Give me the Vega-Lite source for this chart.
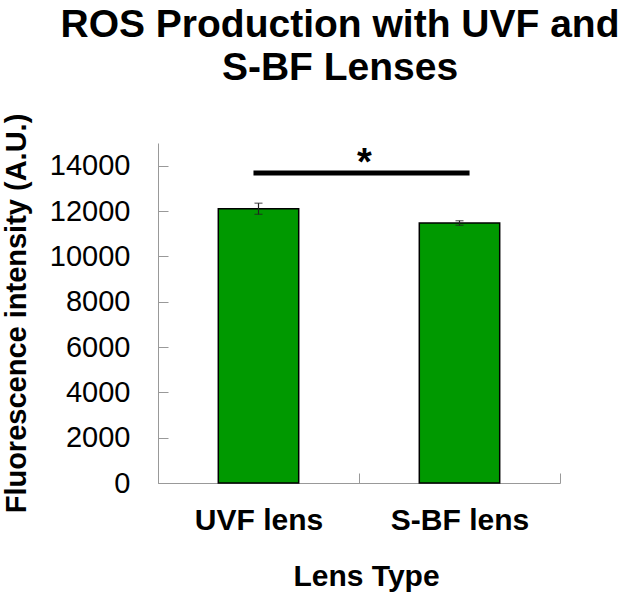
{
  "$schema": "https://vega.github.io/schema/vega-lite/v6.json",
  "width": 402,
  "height": 340,
  "autosize": {"type": "none"},
  "padding": {"left": 158, "top": 143, "right": 72, "bottom": 110},
  "background": "white",
  "title": {
    "text": ["ROS Production with UVF and", "S-BF Lenses"],
    "font": "Liberation Sans",
    "fontSize": 39,
    "fontWeight": "bold",
    "color": "black",
    "anchor": "middle",
    "frame": "group",
    "lineHeight": 43,
    "offset": 25,
    "dx": -19
  },
  "config": {
    "view": {"stroke": null},
    "font": "Liberation Sans",
    "axis": {
      "grid": false,
      "domainColor": "#999999",
      "domainWidth": 1,
      "tickColor": "#999999",
      "tickWidth": 1,
      "tickSize": -10,
      "labelColor": "black",
      "titleColor": "black",
      "labelFont": "Liberation Sans",
      "titleFont": "Liberation Sans",
      "titleFontWeight": "bold"
    },
    "axisY": {
      "labelFontSize": 29,
      "labelPadding": 38,
      "titleFontSize": 29,
      "titleX": -142,
      "titleBaseline": "middle"
    },
    "axisX": {
      "tickBand": "extent",
      "labelAngle": 0,
      "labelFontSize": 30,
      "labelFontWeight": "bold",
      "labelPadding": 32,
      "titleFontSize": 30,
      "titleX": 208,
      "titleY": 102,
      "titleBaseline": "alphabetic"
    }
  },
  "datasets": {
    "bars": [
      {"lens": "UVF lens", "mean": 12100, "err": 245},
      {"lens": "S-BF lens", "mean": 11470, "err": 100}
    ],
    "sig": [
      {"from": "UVF lens", "to": "S-BF lens", "y": 13680, "label": "*", "ly": 13600}
    ]
  },
  "layer": [
    {
      "data": {"name": "bars"},
      "mark": {"type": "bar", "width": {"band": 0.4}, "color": "#009900", "stroke": "black", "strokeWidth": 1.5},
      "encoding": {
        "x": {"field": "lens", "type": "nominal", "title": "Lens Type",
              "scale": {"domain": ["UVF lens", "S-BF lens"], "paddingInner": 0, "paddingOuter": 0}},
        "y": {"field": "mean", "type": "quantitative", "title": "Fluorescence intensity (A.U.)",
              "scale": {"domain": [0, 15000], "nice": false},
              "axis": {"values": [0, 2000, 4000, 6000, 8000, 10000, 12000, 14000], "format": "d"}}
      }
    },
    {
      "data": {"name": "bars"},
      "mark": {"type": "errorbar", "ticks": true, "size": 8, "thickness": 1.2, "color": "#222222"},
      "encoding": {
        "x": {"field": "lens", "type": "nominal", "title": "Lens Type"},
        "y": {"field": "mean", "type": "quantitative", "title": "Fluorescence intensity (A.U.)"},
        "yError": {"field": "err"}
      }
    },
    {
      "data": {"name": "sig"},
      "mark": {"type": "rule", "strokeWidth": 5, "color": "black"},
      "encoding": {
        "x": {"field": "from", "type": "nominal", "title": "Lens Type", "bandPosition": 0.475},
        "x2": {"field": "to", "bandPosition": 0.55},
        "y": {"field": "y", "type": "quantitative", "title": "Fluorescence intensity (A.U.)"}
      }
    },
    {
      "data": {"name": "sig"},
      "mark": {"type": "text", "fontSize": 38, "fontWeight": "bold", "color": "black", "align": "center", "baseline": "alphabetic", "dx": 106},
      "encoding": {
        "x": {"field": "from", "type": "nominal", "title": "Lens Type"},
        "y": {"field": "ly", "type": "quantitative", "title": "Fluorescence intensity (A.U.)"},
        "text": {"field": "label"}
      }
    }
  ]
}
